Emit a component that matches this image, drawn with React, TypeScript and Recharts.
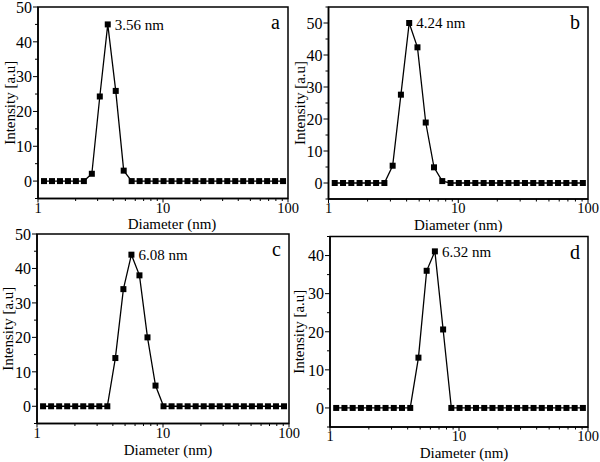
import { LineChart, Line, XAxis, YAxis, ReferenceArea, ReferenceDot } from "recharts";

// Diameter bins (nm), log spaced
const sizes = [
  1.117, 1.294, 1.499, 1.736, 2.01, 2.328, 2.696, 3.122, 3.615, 4.187, 4.849,
  5.615, 6.503, 7.531, 8.721, 10.1, 11.7, 13.54, 15.69, 18.17, 21.04, 24.36,
  28.21, 32.67, 37.84, 43.82, 50.75, 58.77, 68.06, 78.82, 91.28,
];

const intensityA = [
  0, 0, 0, 0, 0, 0, 2.1, 24.3, 45, 25.9, 3.0, 0, 0, 0, 0, 0, 0, 0, 0, 0, 0,
  0, 0, 0, 0, 0, 0, 0, 0, 0, 0,
];
const intensityB = [
  0, 0, 0, 0, 0, 0, 0, 5.4, 27.6, 50, 42.4, 18.9, 4.9, 0.6, 0, 0, 0, 0, 0, 0,
  0, 0, 0, 0, 0, 0, 0, 0, 0, 0, 0,
];
const intensityC = [
  0, 0, 0, 0, 0, 0, 0, 0, 0, 14, 34, 44, 38, 20, 6, 0, 0, 0, 0, 0, 0, 0, 0,
  0, 0, 0, 0, 0, 0, 0, 0,
];
const intensityD = [
  0, 0, 0, 0, 0, 0, 0, 0, 0, 0, 13.2, 36, 41.1, 20.6, 0, 0, 0, 0, 0, 0, 0, 0,
  0, 0, 0, 0, 0, 0, 0, 0, 0,
];

const peakLabels = ["3.56 nm", "4.24 nm", "6.08 nm", "6.32 nm"];
const panelLetters = ["a", "b", "c", "d"];

const xTicks = [1, 10, 100];
const xMinorTicks = [2, 3, 4, 5, 6, 7, 8, 9, 20, 30, 40, 50, 60, 70, 80, 90];
const yDomains = [
  [-5, 50],
  [-5, 55],
  [-5, 50],
  [-5, 45],
];
const yTicks = [
  [0, 10, 20, 30, 40, 50],
  [0, 10, 20, 30, 40, 50],
  [0, 10, 20, 30, 40, 50],
  [0, 10, 20, 30, 40],
];
const yMinorTicks = [
  [-5, 5, 15, 25, 35, 45],
  [-5, 5, 15, 25, 35, 45, 55],
  [-5, 5, 15, 25, 35, 45],
  [-5, 5, 15, 25, 35, 45],
];

const FONT = "'Liberation Serif', 'Times New Roman', serif";

const layouts = [
  { box: { left: 0, top: 0, width: 300, height: 232 }, plot: { l: 38, t: 7, r: 288, b: 198.5 }, yLab: 10, xOff: 20, xDx: 9 },
  { box: { left: 290, top: 0, width: 310, height: 232 }, plot: { l: 328.5, t: 7, r: 588, b: 199 }, yLab: 299.5, xOff: 20, xDx: 0 },
  { box: { left: 0, top: 225, width: 300, height: 237 }, plot: { l: 37, t: 234, r: 289, b: 423.5 }, yLab: 8, xOff: 21, xDx: 5 },
  { box: { left: 290, top: 225, width: 310, height: 237 }, plot: { l: 330, t: 236.5, r: 588, b: 427 }, yLab: 298.7, xOff: 20, xDx: 5 },
];

const SquareDot = (props: any) => {
  const { cx, cy, index } = props;
  if (cx == null || cy == null) return <g key={index} />;
  return <rect key={index} x={cx - 3} y={cy - 3} width={6} height={6} fill="#000" />;
};

const XTick = (props: any) => {
  const { x, y, payload } = props;
  const major = xTicks.includes(payload.value);
  return (
    <g>
      <line x1={x} x2={x} y1={y} y2={y + (major ? 4 : 2.5)} stroke="#000" strokeWidth={1} />
      {major && (
        <text x={x} y={y + 3.5} dy="0.75em" textAnchor="middle" fontSize={14.5} fill="#000" fontFamily={FONT}>
          {payload.value}
        </text>
      )}
    </g>
  );
};

const makeYTick = (majors: number[]) => (props: any) => {
  const { x, y, payload } = props;
  const major = majors.includes(payload.value);
  return (
    <g>
      <line x1={x} x2={x - (major ? 5 : 3)} y1={y} y2={y} stroke="#000" strokeWidth={1} />
      {major && (
        <text x={x - 6} y={y} dy="0.36em" textAnchor="end" fontSize={16} fill="#000" fontFamily={FONT}>
          {payload.value}
        </text>
      )}
    </g>
  );
};

function Panel({ i }: { i: number }) {
  const values = [intensityA, intensityB, intensityC, intensityD][i];
  const data = sizes.map((d, k) => ({ d, v: values[k] }));
  const peak = values.indexOf(Math.max(...values));
  const { box, plot, yLab, xOff, xDx } = layouts[i];
  const margin = {
    top: plot.t - box.top,
    left: 0,
    right: box.left + box.width - plot.r,
    bottom: 0,
  };
  const yDomain = yDomains[i];
  const YTick = makeYTick(yTicks[i]);

  return (
    <div style={{ position: "absolute", left: box.left, top: box.top }}>
      <LineChart width={box.width} height={box.height} data={data} margin={margin}>
        <XAxis
          dataKey="d"
          type="number"
          scale="log"
          domain={[1, 100]}
          allowDataOverflow
          ticks={[...xTicks, ...xMinorTicks]}
          interval={0}
          tick={XTick}
          tickSize={0}
          tickMargin={0}
          tickLine={false}
          axisLine={{ stroke: "#000", strokeWidth: 1.5 }}
          height={box.top + box.height - plot.b}
          label={{
            value: "Diameter (nm)",
            position: "insideTop",
            offset: xOff,
            dx: xDx,
            style: { fontSize: 15, fill: "#000", fontFamily: FONT },
          }}
        />
        <YAxis
          type="number"
          domain={yDomain}
          allowDataOverflow
          ticks={[...yTicks[i], ...yMinorTicks[i]]}
          interval={0}
          tick={YTick}
          tickSize={0}
          tickMargin={0}
          tickLine={false}
          axisLine={{ stroke: "#000", strokeWidth: 1.5 }}
          width={plot.l - box.left}
          label={{
            value: "Intensity [a.u]",
            angle: -90,
            position: "insideLeft",
            offset: yLab - box.left,
            style: { fontSize: 15, fill: "#000", fontFamily: FONT, textAnchor: "middle" },
          }}
        />
        <ReferenceArea
          x1={1}
          x2={100}
          y1={yDomain[0]}
          y2={yDomain[1]}
          fill="none"
          stroke="#000"
          strokeWidth={1.5}
          fillOpacity={0}
          label={{
            value: panelLetters[i],
            position: "insideTopRight",
            offset: 8,
            style: { fontSize: 20, fill: "#000", fontFamily: FONT },
          }}
        />
        <Line
          dataKey="v"
          stroke="#000"
          strokeWidth={1.3}
          dot={SquareDot}
          activeDot={false}
          isAnimationActive={false}
        />
        <ReferenceDot
          x={sizes[peak]}
          y={values[peak]}
          r={3}
          fill="none"
          stroke="none"
          label={{
            value: peakLabels[i],
            position: "right",
            offset: 4,
            style: { fontSize: 15, fill: "#000", fontFamily: FONT },
          }}
        />
      </LineChart>
    </div>
  );
}

export default function App() {
  return (
    <div style={{ position: "absolute", left: 0, top: 0, width: 600, height: 462, background: "#fff" }}>
      {[0, 1, 2, 3].map((i) => (
        <Panel key={i} i={i} />
      ))}
    </div>
  );
}
